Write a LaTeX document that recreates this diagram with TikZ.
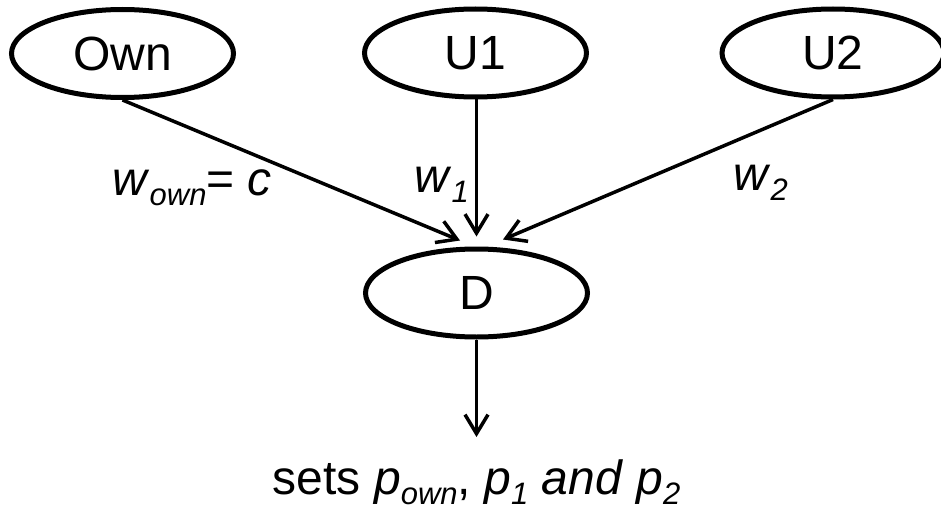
\documentclass[tikz,border=0pt]{standalone}
\usepackage{fontspec}
\setmainfont{Liberation Sans}
\usetikzlibrary{shapes,arrows.meta}
\usetikzlibrary{positioning}

\begin{document}
\begin{tikzpicture}[
        every node/.style={font=\fontsize{24}{28}\selectfont},
        link/.style={line width=1.75pt, -{Straight Barb[length=9.5pt,width=11.5pt,line width=1.75pt]}},
        ]
        \tikzstyle{agent} = [draw, ellipse, line width=2.5pt, minimum width=111pt, minimum height=44pt, inner sep=0pt];
        \tikzstyle{weight} = [inner sep=0pt, anchor=base west];
        \newcommand{\lowsub}[1]{\raisebox{-5pt}{\fontsize{15.5}{15.5}\selectfont\itshape #1}}
        \useasboundingbox (0pt,0pt) rectangle (470.5pt,-254pt);
        % sources on top, decision node below
        \node [agent] (own) at (61.25pt,-26.75pt) {Own};
        \node [agent] (u1) at (237.75pt,-26.5pt) {U1};
        \node [agent] (u2) at (416.5pt,-26.5pt) {U2};
        \node [agent] (d) at (238.25pt,-146.5pt) {D};
        \coordinate (inown) at ([xshift=-8.25pt,yshift=3pt]d.north);
        \coordinate (inu1) at ([yshift=5pt]d.north);
        \coordinate (inu2) at ([xshift=13.25pt,yshift=3.5pt]d.north);
        \coordinate (out) at (238.25pt,-218.5pt);
        \draw [link] (own.south) -- (inown);
        \draw [link] (u1.south -| inu1) -- (inu1);
        \draw [link] (u2.south) -- (inu2);
        \draw [link] (d.south) -- (out);
        % edge weights
        \node [weight] (wown) at (56pt,-97.5pt) {\textit{w}\lowsub{own}= \textit{c}};
        \node [weight] (w1) at (207pt,-96pt) {\textit{w}\lowsub{1}};
        \node [weight] (w2) at (366.5pt,-95pt) {\textit{w}\lowsub{2}};
        \node [inner sep=0pt, anchor=base] (result) at (238.25pt,-247pt)
            {sets \textit{p}\lowsub{own}, \textit{p}\lowsub{1} \textit{and} \textit{p}\lowsub{2}};
    \end{tikzpicture}
\end{document}
